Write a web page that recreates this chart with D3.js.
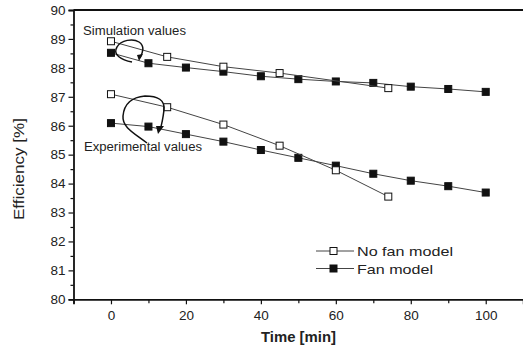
<!DOCTYPE html>
<html><head><meta charset="utf-8">
<script src="https://cdn.jsdelivr.net/npm/d3@7"></script>
<style>body{margin:0;background:#fff}svg{display:block}text{font-family:Arial,"Liberation Sans",sans-serif;fill:#222}</style>
</head><body><svg id="c" width="523" height="348"></svg>
<script>
// Data
const simTimeNoFan = [0, 15, 30, 45, 74];
const simNoFan     = [88.92, 88.38, 88.04, 87.82, 87.30];
const simTimeFan   = [0, 10, 20, 30, 40, 50, 60, 70, 80, 90, 100];
const simFan       = [88.52, 88.16, 88.01, 87.87, 87.71, 87.61, 87.53, 87.48, 87.35, 87.27, 87.17];
const expTimeNoFan = [0, 15, 30, 45, 60, 74];
const expNoFan     = [87.09, 86.64, 86.04, 85.31, 84.46, 83.55];
const expTimeFan   = [0, 10, 20, 30, 40, 50, 60, 70, 80, 90, 100];
const expFan       = [86.09, 85.97, 85.71, 85.45, 85.16, 84.89, 84.62, 84.34, 84.10, 83.91, 83.69];
const xTickLabels  = [0, 20, 40, 60, 80, 100];
const yTickLabels  = [80, 81, 82, 83, 84, 85, 86, 87, 88, 89, 90];
const legendLabels = ["No fan model", "Fan model"];
const annotations  = ["Simulation values", "Experimental values"];

const svg = d3.select("#c");
const x = d3.scaleLinear().domain([-10, 110]).range([73.5, 523.2]);
const y = d3.scaleLinear().domain([80, 90]).range([299.3, 10]);

// Axes
svg.append("g").attr("transform", `translate(0,${y(80)})`)
  .call(d3.axisBottom(x).tickValues(xTickLabels).tickSize(5).tickPadding(6).tickFormat(d3.format("d")));
svg.append("g").attr("transform", `translate(0,${y(80)})`)
  .call(d3.axisBottom(x).tickValues([-10,10,30,50,70,90]).tickSize(4).tickFormat(""))
  .select(".domain").remove();
svg.append("g").attr("transform", `translate(${x(-10)},0)`)
  .call(d3.axisLeft(y).tickValues(yTickLabels).tickSize(5).tickPadding(3).tickFormat(d3.format("d")));
svg.append("g").attr("transform", `translate(${x(-10)},0)`)
  .call(d3.axisLeft(y).tickValues(d3.range(80.5, 90, 1)).tickSize(3).tickFormat(""))
  .select(".domain").remove();
svg.selectAll(".domain").attr("stroke", "#111").attr("stroke-width", 1.8);
svg.selectAll(".tick line").attr("stroke", "#111").attr("stroke-width", 1.2);
svg.selectAll(".tick text").attr("font-size", 13.5).attr("fill", "#333")
  .attr("font-family", "Arial, 'Liberation Sans', sans-serif");
// top frame
svg.append("line").attr("x1", x(-10)).attr("x2", 523).attr("y1", y(90)).attr("y2", y(90))
  .attr("stroke", "#111").attr("stroke-width", 1.8);

// Axis titles
svg.append("text").attr("x", 261).attr("y", 341.5)
  .attr("font-size", 14.5).attr("font-weight", "bold").attr("fill", "#333")
  .attr("textLength", 75).attr("lengthAdjust", "spacingAndGlyphs").text("Time [min]");
svg.append("text").attr("transform", "translate(24,169) rotate(-90)").attr("text-anchor", "middle")
  .attr("font-size", 14.5).attr("fill", "#222")
  .attr("textLength", 102).attr("lengthAdjust", "spacingAndGlyphs").text("Efficiency [%]");

// Series
const line = d3.line().x(d => x(d[0])).y(d => y(d[1]));
function series(times, vals, filled) {
  const pts = times.map((t, i) => [t, vals[i]]);
  svg.append("path").datum(pts).attr("d", line).attr("fill", "none")
    .attr("stroke", "#444").attr("stroke-width", 1);
  svg.append("g").selectAll("rect").data(pts).join("rect")
    .attr("x", d => x(d[0]) - 3.5).attr("y", d => y(d[1]) - 3.5)
    .attr("width", 7).attr("height", 7)
    .attr("fill", filled ? "#111" : "#fff").attr("stroke", "#111").attr("stroke-width", 1);
}
series(simTimeFan, simFan, true);
series(expTimeFan, expFan, true);
series(simTimeNoFan, simNoFan, false);
series(expTimeNoFan, expNoFan, false);

// Annotations
svg.append("text").attr("x", 83).attr("y", 35).attr("font-size", 12).attr("fill", "#333")
  .attr("textLength", 103).attr("lengthAdjust", "spacingAndGlyphs").text(annotations[0]);
svg.append("text").attr("x", 84).attr("y", 151).attr("font-size", 12).attr("fill", "#333")
  .attr("textLength", 118).attr("lengthAdjust", "spacingAndGlyphs").text(annotations[1]);

// Hand-drawn curl arrows
svg.append("path").attr("d", "M132,62 C122,60 112,55 117,47 C121,40 133,38 139,42 C145,46 143,52 140,58")
  .attr("fill", "none").attr("stroke", "#111").attr("stroke-width", 1.5);
svg.append("path").attr("d", "M137,55 L143,54 L139,61 Z").attr("fill", "#111");
svg.append("path").attr("d", "M147,143 C136,134 122,128 123,116 C124,104 132,97 145,96 C158,96 165,100 164,110 C163,118 162,124 160,130")
  .attr("fill", "none").attr("stroke", "#111").attr("stroke-width", 1.5);
svg.append("path").attr("d", "M156,126 L164,126 L158,134 Z").attr("fill", "#111");

// Legend
const lg = svg.append("g");
legendLabels.forEach((lab, i) => {
  const cy = 251 + i * 17.5;
  lg.append("line").attr("x1", 316).attr("x2", 354).attr("y1", cy).attr("y2", cy)
    .attr("stroke", "#444").attr("stroke-width", 1);
  lg.append("rect").attr("x", 333.5 - 3.5).attr("y", cy - 3.5).attr("width", 7).attr("height", 7)
    .attr("fill", i === 0 ? "#fff" : "#111").attr("stroke", "#111");
  lg.append("text").attr("x", 357).attr("y", cy + 5).attr("font-size", 13.5).attr("fill", "#222")
    .attr("textLength", i === 0 ? 96 : 76).attr("lengthAdjust", "spacingAndGlyphs").text(lab);
});
</script></body></html>
